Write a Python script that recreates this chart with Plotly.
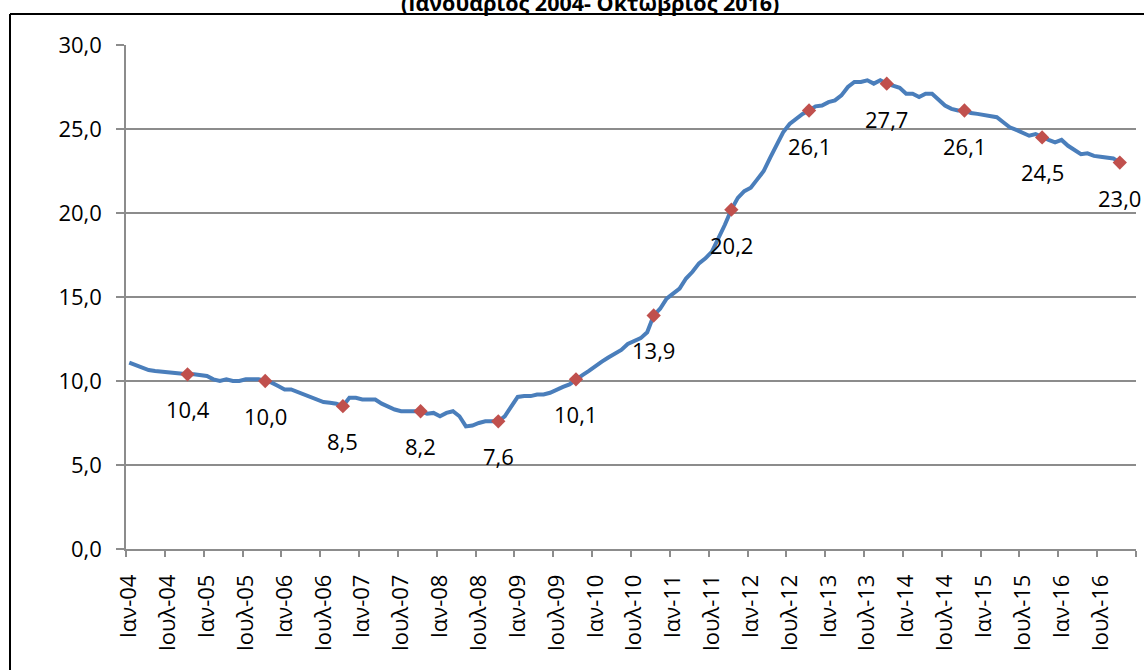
import plotly.graph_objects as go

# ---- data ----
years = [2004, 2005, 2006, 2007, 2008, 2009, 2010, 2011, 2012, 2013, 2014, 2015, 2016]
month_names = ["Ιαν", "Φεβ", "Μαρ", "Απρ", "Μαϊ", "Ιουν", "Ιουλ", "Αυγ", "Σεπ", "Οκτ", "Νοε", "Δεκ"]
categories = [f"{m}-{str(y)[2:]}" for y in years for m in month_names]  # Jan-04 .. Dec-16

# monthly unemployment rate (%), Jan 2004 - Oct 2016
unemployment = [
    11.1, 10.95, 10.8, 10.65, 10.6, 10.55, 10.5, 10.5, 10.4, 10.4, 10.4, 10.35,   # 2004
    10.3, 10.1, 10.0, 10.1, 10.0, 10.0, 10.1, 10.1, 10.1, 10.0, 9.9, 9.7,         # 2005
    9.5, 9.5, 9.35, 9.2, 9.0, 8.9, 8.75, 8.7, 8.65, 8.5, 9.0, 9.0,                # 2006
    8.9, 8.9, 8.9, 8.65, 8.45, 8.3, 8.2, 8.2, 8.15, 8.2, 8.05, 8.1,               # 2007
    7.9, 8.1, 8.2, 7.9, 7.3, 7.35, 7.5, 7.6, 7.6, 7.6, 7.9, 8.5,                  # 2008
    9.05, 9.1, 9.1, 9.2, 9.2, 9.3, 9.5, 9.65, 9.8, 10.1, 10.35, 10.6,             # 2009
    10.9, 11.15, 11.4, 11.6, 11.85, 12.2, 12.4, 12.55, 12.9, 13.9, 14.3, 14.9,    # 2010
    15.2, 15.5, 16.1, 16.5, 17.0, 17.3, 17.7, 18.45, 19.3, 20.2, 20.9, 21.3,      # 2011
    21.5, 22.0, 22.5, 23.3, 24.0, 24.8, 25.3, 25.6, 25.9, 26.1, 26.35, 26.4,      # 2012
    26.6, 26.7, 27.0, 27.5, 27.8, 27.8, 27.9, 27.7, 27.9, 27.7, 27.6, 27.45,      # 2013
    27.1, 27.1, 26.9, 27.1, 27.1, 26.75, 26.4, 26.2, 26.1, 26.1, 25.95, 25.9,     # 2014
    25.85, 25.8, 25.7, 25.4, 25.1, 24.95, 24.8, 24.6, 24.7, 24.5, 24.35, 24.2,    # 2015
    24.35, 24.0, 23.75, 23.5, 23.55, 23.4, 23.35, 23.3, 23.25, 23.0,              # 2016
]
marker_month = "Οκτ"  # highlighted month of each year

y_ticks = [0, 5, 10, 15, 20, 25, 30]
title_text = "(Ιανουάριος 2004- Οκτώβριος 2016)"

# ---- derived ----
x_line = categories[:len(unemployment)]
mk_x = [c for c in x_line if c.startswith(marker_month)]
mk_y = [v for c, v in zip(x_line, unemployment) if c.startswith(marker_month)]

FONT = "Open Sans"
GRID = "#8c8c8c"

fig = go.Figure()
fig.add_trace(go.Scatter(
    x=x_line, y=unemployment, mode="lines",
    line=dict(color="#4A7EBB", width=4), hoverinfo="x+y", showlegend=False,
))
fig.add_trace(go.Scatter(
    x=mk_x, y=mk_y, mode="markers",
    marker=dict(symbol="diamond", size=11, color="#C0504D"),
    showlegend=False,
))

for cx, cy in zip(mk_x, mk_y):
    fig.add_annotation(
        x=cx, y=cy, text=f"{cy:.1f}".replace(".", ","), showarrow=False,
        yshift=-35, font=dict(family=FONT, size=22, color="#000000"),
        xanchor="center", yanchor="middle",
    )

# title (partially cut off at the top of the picture)
fig.add_annotation(
    xref="paper", yref="paper", x=(590 - 126) / 1010, y=1.0516,
    text=f"<b>{title_text}</b>", showarrow=False, xanchor="center", yanchor="bottom",
    font=dict(family=FONT, size=21.5, color="#000000"),
)

# chart border (top and left edges visible)
def px_x(p):
    return (p - 126) / 1010

def px_y(p):
    return (549 - p) / 504

fig.add_shape(type="line", xref="paper", yref="paper",
              x0=px_x(10), x1=px_x(1160), y0=px_y(14), y1=px_y(14),
              line=dict(color="#000000", width=2))
fig.add_shape(type="line", xref="paper", yref="paper",
              x0=px_x(10), x1=px_x(10), y0=px_y(14), y1=px_y(690),
              line=dict(color="#000000", width=2))

fig.update_layout(
    width=1144, height=670,
    margin=dict(l=126, r=8, t=45, b=121, autoexpand=False),
    plot_bgcolor="white", paper_bgcolor="white",
    separators=",.",
    font=dict(family=FONT, color="#000000"),
    showlegend=False,
)
fig.update_xaxes(
    type="category", categoryorder="array", categoryarray=categories,
    range=[-0.5, len(categories) - 0.5], automargin=False,
    tickmode="linear", tick0=0, dtick=6, tickson="boundaries",
    tickangle=-90, ticks="outside", ticklen=6, tickcolor=GRID, tickwidth=1.5,
    showline=True, linecolor=GRID, linewidth=1.5, showgrid=False,
    tickfont=dict(family=FONT, size=22, color="#000000"),
    ticklabelstandoff=15,
)
fig.update_yaxes(
    range=[0, 30], tickvals=y_ticks, tickformat=".1f", automargin=False,
    ticks="outside", ticklen=8, tickcolor=GRID, tickwidth=1.5,
    showline=True, linecolor=GRID, linewidth=1.5,
    showgrid=True, gridcolor=GRID, gridwidth=1.5, zeroline=False,
    tickfont=dict(family=FONT, size=22, color="#000000"),
    ticklabelstandoff=10,
)

fig.write_html(
    "out.html",
    config={"displayModeBar": False},
    post_script="document.body.style.margin='0';document.body.style.overflow='hidden';",
)
